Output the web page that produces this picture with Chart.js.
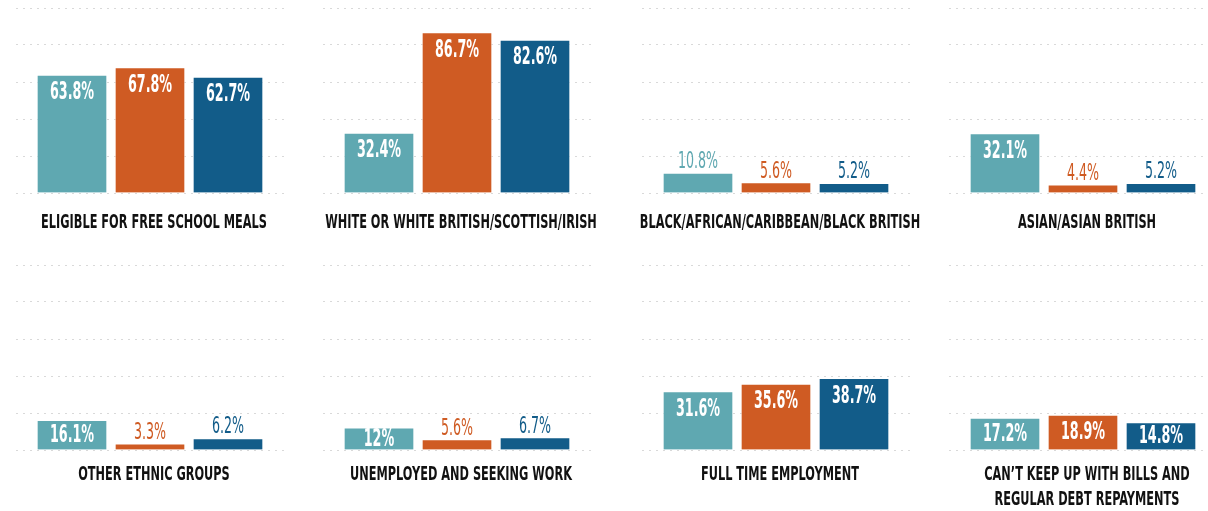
<!DOCTYPE html>
<html>
<head>
<meta charset="utf-8">
<script src="https://cdn.jsdelivr.net/npm/chart.js@4.4.1/dist/chart.umd.min.js"></script>
<style>
  html, body { margin: 0; background: #fff; overflow: hidden; width: 1208px; height: 511px; }
  .painel { position: absolute; width: 320px; height: 252px; }
</style>
</head>
<body>
<script>
// categorias e valores das três séries (percentuais)
const categories = [
  'ELIGIBLE FOR FREE SCHOOL MEALS',
  'WHITE OR WHITE BRITISH/SCOTTISH/IRISH',
  'BLACK/AFRICAN/CARIBBEAN/BLACK BRITISH',
  'ASIAN/ASIAN BRITISH',
  'OTHER ETHNIC GROUPS',
  'UNEMPLOYED AND SEEKING WORK',
  'FULL TIME EMPLOYMENT',
  'CAN\u2019T KEEP UP WITH BILLS AND\nREGULAR DEBT REPAYMENTS'
];
const seriesA = [63.8, 32.4, 10.8, 32.1, 16.1, 12, 31.6, 17.2];
const seriesB = [67.8, 86.7, 5.6, 4.4, 3.3, 5.6, 35.6, 18.9];
const seriesC = [62.7, 82.6, 5.2, 5.2, 6.2, 6.7, 38.7, 14.8];
const yTicks = [0, 20, 40, 60, 80, 100];

const cores = ['#5fa8b1', '#cf5b23', '#125c89'];
const centrosX = [150, 457, 776, 1083];   // barra do meio de cada coluna
const topoLinha = [0, 257];
const distTitulo = [30, 25];
const fonteEstreita = '"Liberation Sans Narrow", "DejaVu Sans Condensed", sans-serif';
const minDentro = 11; // abaixo disso o rótulo vai por cima da barra

function textoApertado(ctx, texto, x, y, sx) {
  ctx.save();
  ctx.translate(x, y);
  ctx.scale(sx, 1);
  ctx.fillText(texto, 0, 0);
  ctx.restore();
}

const rotulos = {
  id: 'rotulos',
  afterDatasetsDraw(c) {
    const ctx = c.ctx;
    const ds = c.data.datasets[0];
    const meta = c.getDatasetMeta(0);
    ctx.save();
    ctx.textAlign = 'center';
    ctx.textBaseline = 'middle';
    meta.data.forEach((bar, i) => {
      const v = ds.data[i].y;
      const txt = v + '%';
      if (v >= minDentro) {
        ctx.font = 'bold 24px ' + fonteEstreita;
        ctx.fillStyle = '#fff';
        textoApertado(ctx, txt, bar.x, Math.min(bar.y + 18, (bar.y + bar.base) / 2 + 1), 0.59);
      } else {
        ctx.font = '23px ' + fonteEstreita;
        ctx.fillStyle = cores[i];
        textoApertado(ctx, txt, bar.x, bar.y - 11, 0.61);
      }
    });
    ctx.restore();
  },
  afterDraw(c, args, opts) {
    const ctx = c.ctx;
    const meio = c.getDatasetMeta(0).data[1].x + 4;
    ctx.save();
    ctx.textAlign = 'center';
    ctx.textBaseline = 'middle';
    ctx.font = 'bold 20px ' + fonteEstreita;
    ctx.fillStyle = '#111';
    opts.titulo.split('\n').forEach((linha, k) => {
      textoApertado(ctx, linha, meio, c.chartArea.bottom + opts.gap + k * 25, 0.63);
    });
    ctx.restore();
  }
};

categories.forEach((cat, i) => {
  const linha = Math.floor(i / 4), col = i % 4;
  const div = document.createElement('div');
  div.className = 'painel';
  div.style.left = (centrosX[col] - 160) + 'px';
  div.style.top = topoLinha[linha] + 'px';
  const canvas = document.createElement('canvas');
  div.appendChild(canvas);
  document.body.appendChild(div);

  const valores = [seriesA[i], seriesB[i], seriesC[i]];

  new Chart(canvas, {
    type: 'bar',
    data: {
      datasets: [{
        data: valores.map((v, k) => ({x: k, y: v})),
        backgroundColor: cores,
        borderColor: 'rgba(255,255,255,0.45)',
        borderWidth: 1,
        barThickness: 70
      }]
    },
    options: {
      responsive: true,
      maintainAspectRatio: false,
      animation: false,
      layout: {padding: {left: 26, right: 26, top: 8, bottom: 59}},
      scales: {
        x: {type: 'linear', display: false, offset: false, min: 1 - 134 / 78, max: 1 + 134 / 78},
        y: {
          min: yTicks[0],
          max: yTicks[yTicks.length - 1],
          afterBuildTicks: s => { s.ticks = yTicks.map(v => ({value: v})); },
          ticks: {display: false},
          border: {display: false, dash: [2, 5]},
          grid: {color: '#d9d9d9', lineWidth: 1, drawTicks: false}
        }
      },
      plugins: {
        legend: {display: false},
        tooltip: {enabled: false},
        rotulos: {titulo: cat, gap: distTitulo[linha]}
      }
    },
    plugins: [rotulos]
  });
});
</script>
</body>
</html>
